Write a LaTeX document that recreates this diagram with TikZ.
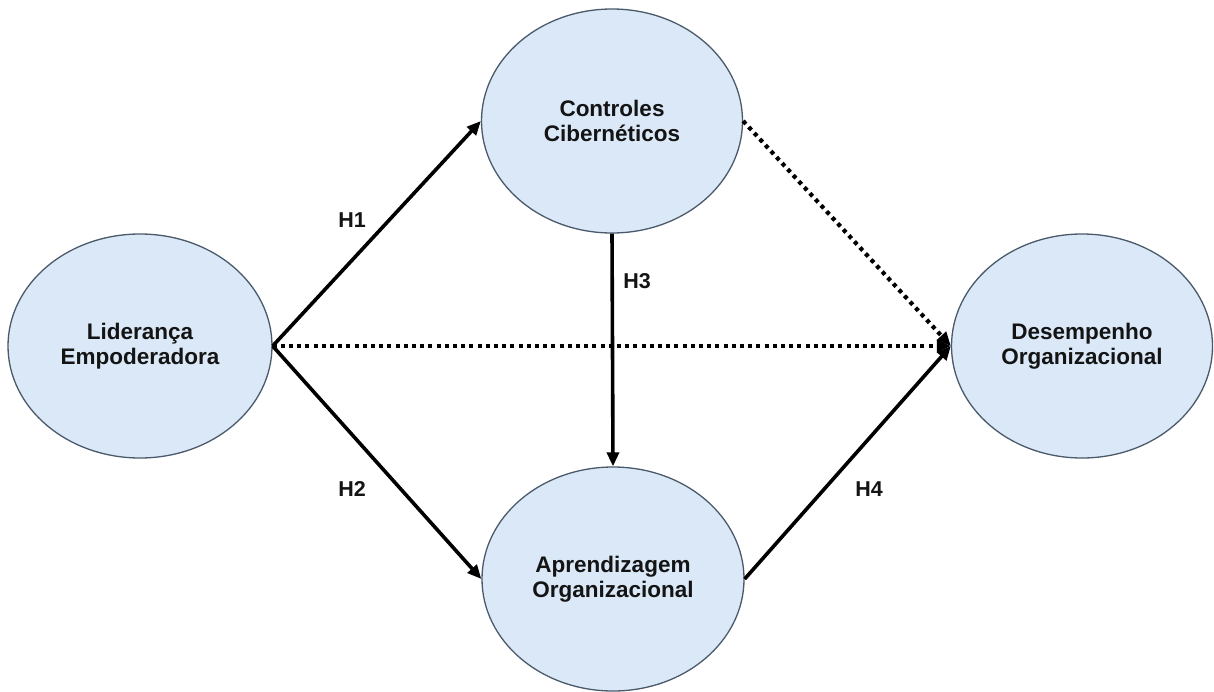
\documentclass[tikz,border=0pt]{standalone}
\usepackage{fontspec}
\setmainfont{Liberation Sans}
\usetikzlibrary{shapes.geometric,arrows.meta}
\definecolor{efill}{HTML}{DAE8F7}
\definecolor{edraw}{HTML}{4A5A6A}
\definecolor{txt}{HTML}{141414}
\tikzset{
  construct/.style={ellipse, draw=edraw, line width=1.3pt, fill=efill, inner sep=0pt,
    align=center, text=txt, font=\fontsize{22.5}{25.5}\selectfont\bfseries},
  solidarrow/.style={line width=3.6pt, -{Triangle[length=14pt,width=12pt]}},
  dotarrow/.style={line width=4.2pt, dash pattern=on 4pt off 4.2pt, -{Triangle[length=14pt,width=12pt]}},
  hlabel/.style={text=txt, font=\fontsize{21.5}{25}\selectfont\bfseries, inner sep=0pt}
}
\begin{document}
\begin{tikzpicture}[x=1pt,y=-1pt]
\useasboundingbox (0,0) rectangle (1214,691);
\node[construct, minimum width=264pt, minimum height=224pt] (le) at (140,346) {Liderança\\Empoderadora};
\node[construct, minimum width=261pt, minimum height=224pt] (cc) at (612,121) {Controles\\Cibernéticos};
\node[construct, minimum width=262pt, minimum height=224pt] (ao) at (613,579) {Aprendizagem\\Organizacional};
\node[construct, minimum width=261pt, minimum height=224pt] (do) at (1082,346) {Desempenho\\Organizacional};
\draw[dotarrow] (le.east) -- (do.west);
\draw[dotarrow] (cc.east) -- (do.west);
\draw[solidarrow] (le.east) -- (cc.west);
\draw[solidarrow] (le.east) -- (ao.west);
\draw[solidarrow] (cc.south) -- (ao.north);
\draw[solidarrow] (ao.east) -- (do.west);
\node[hlabel] (h1) at (352,220) {H1};
\node[hlabel] (h2) at (352,489) {H2};
\node[hlabel] (h3) at (637,281) {H3};
\node[hlabel] (h4) at (869,489) {H4};
\end{tikzpicture}
\end{document}
